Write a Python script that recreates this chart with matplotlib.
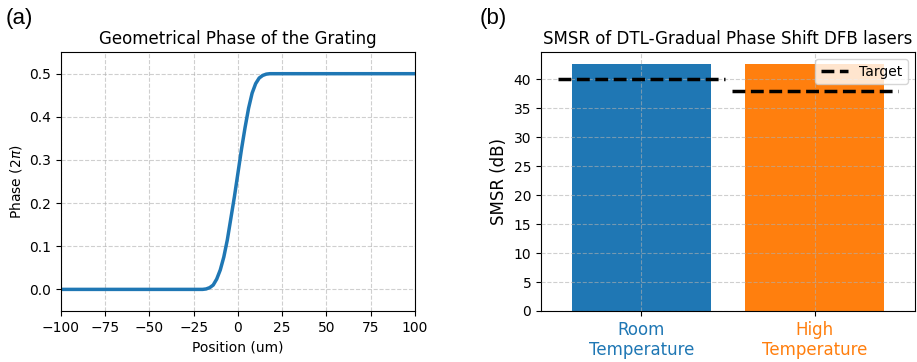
import matplotlib
matplotlib.use("Agg")
import matplotlib.pyplot as plt

# (a) grating phase
position = [-100, -20, -18, -16, -14, -12, -10, -8, -6, -4, -2, 0, 2, 4, 6,
            8, 10, 12, 14, 16, 18, 20, 100]
phase = [0.0, 0.0, 0.001, 0.004, 0.010, 0.024, 0.045, 0.075, 0.115, 0.165,
         0.215, 0.27, 0.325, 0.375, 0.42, 0.455, 0.477, 0.490, 0.496, 0.499,
         0.5, 0.5, 0.5]

# (b) SMSR bars
categories = ['Room\nTemperature', 'High\nTemperature']
smsr = [42.6, 42.6]
targets = [40, 38]
bar_colors = ['#1f77b4', '#ff7f0e']

fig = plt.figure(figsize=(9.17, 3.62), dpi=100)

ax1 = fig.add_axes([0.0665, 0.141, 0.386, 0.715])
ax1.plot(position, phase, color='#1f77b4', lw=2.5)
ax1.set_xlim(-100, 100)
ax1.set_ylim(-0.05, 0.55)
ax1.set_xlabel('Position (um)')
ax1.set_ylabel(r'Phase ($2\pi$)')
ax1.set_title('Geometrical Phase of the Grating', fontsize=12)
ax1.grid(True, linestyle='--', alpha=0.6)

ax2 = fig.add_axes([0.59, 0.141, 0.408, 0.715])
xs = range(len(categories))
ax2.bar(xs, smsr, color=bar_colors, width=0.8)
for i, t in enumerate(targets):
    ax2.plot([i - 0.48, i + 0.48], [t, t], 'k--', lw=2.5, zorder=3,
             label='Target' if i == 0 else None)
ax2.set_xticks(list(xs))
ax2.set_xticklabels(categories, fontsize=12)
for lbl, c in zip(ax2.get_xticklabels(), bar_colors):
    lbl.set_color(c)
ax2.set_yticks(range(0, 41, 5))
ax2.set_ylabel('SMSR (dB)', fontsize=12)
ax2.set_title('SMSR of DTL-Gradual Phase Shift DFB lasers', fontsize=12)
ax2.grid(True, linestyle='--', alpha=0.6)
ax2.set_axisbelow(False)
ax2.legend(loc='upper right')

fig.text(0.006, 0.978, '(a)', fontsize=16, family='Liberation Sans', va='top')
fig.text(0.523, 0.978, '(b)', fontsize=16, family='Liberation Sans', va='top')

fig.savefig('out.png', dpi=100)
